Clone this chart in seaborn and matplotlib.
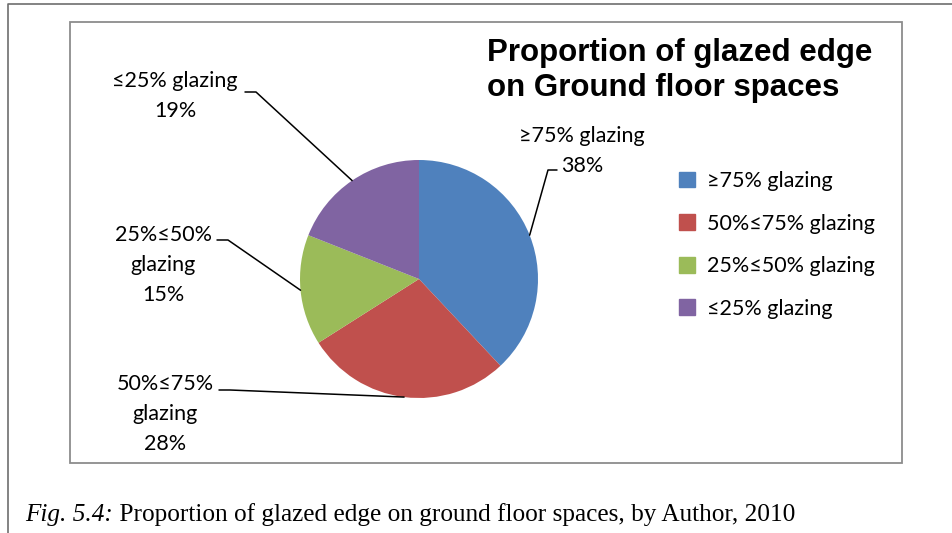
import numpy as np
import seaborn as sns
import matplotlib.pyplot as plt
from matplotlib.patches import Rectangle, Patch
from matplotlib.lines import Line2D

# data
categories = ['≥75% glazing', '50%≤75% glazing', '25%≤50% glazing', '≤25% glazing']
shares = [38, 28, 15, 19]
pie_labels = ['≥75% glazing\n38%', '50%≤75%\nglazing\n28%',
              '25%≤50%\nglazing\n15%', '≤25% glazing\n19%']
colors = ['#4F81BD', '#C0504D', '#9BBB59', '#8064A2']

title = 'Proportion of glazed edge\non Ground floor spaces'
caption_fig = 'Fig. 5.4:'
caption_text = ' Proportion of glazed edge on ground floor spaces, by Author, 2010'

sns.set_theme(style='white')
plt.rcParams['font.family'] = ['Lato', 'DejaVu Sans']
plt.rcParams['text.color'] = 'black'

W, H = 952, 533
fig = plt.figure(figsize=(W / 100, H / 100), dpi=100)


def px(x, y):
    # pixel coords (top-left origin) -> figure fraction
    return x / W, 1 - y / H


# pie
cx, cy, r = 419, 279, 119
ax = fig.add_axes([(cx - r) / W, (H - cy - r) / H, 2 * r / W, 2 * r / H])
wedges, _ = ax.pie(shares, colors=colors, startangle=90, counterclock=False,
                   wedgeprops=dict(linewidth=0))
ax.set_xlim(-1, 1)
ax.set_ylim(-1, 1)
ax.axis('off')
ax.apply_aspect()

# frames
fig.add_artist(Rectangle(px(70, 463), 832 / W, 441 / H, transform=fig.transFigure,
                         fill=False, ec='#8c8c8c', lw=1.3))
fig.add_artist(Line2D([8 / W, 8 / W, 1], [0, 1 - 4 / H, 1 - 4 / H],
                      transform=fig.transFigure, color='#6e6e6e', lw=1.2))

# data labels with leader lines
label_pos = [(582, 151), (165, 414), (163, 265), (175, 96)]
knees = [((557, 170), (548, 170)), ((219, 390), (230, 390)),
         ((217, 240), (228, 240)), ((245, 92), (256, 92))]
to_fig = fig.transFigure.inverted()
for w, lab, pos, (k0, k1) in zip(wedges, pie_labels, label_pos, knees):
    mid = np.deg2rad((w.theta1 + w.theta2) / 2)
    end = to_fig.transform(ax.transData.transform((np.cos(mid), np.sin(mid))))
    xs = [px(*k0)[0], px(*k1)[0], end[0]]
    ys = [px(*k0)[1], px(*k1)[1], end[1]]
    fig.add_artist(Line2D(xs, ys, transform=fig.transFigure, color='black', lw=1.1))
    fig.text(*px(*pos), lab, ha='center', va='center', fontsize=15.5,
             linespacing=1.65, multialignment='center')

# legend
handles = [Patch(color=c, label=l) for c, l in zip(colors, categories)]
fig.legend(handles=handles, loc='upper left', bbox_to_anchor=px(679, 171),
           frameon=False, fontsize=15.5, handlelength=0.75, handleheight=0.75,
           handletextpad=0.55, labelspacing=1.05, borderaxespad=0, borderpad=0,
           labelcolor='black')

# title
fig.text(*px(487, 38), title, ha='left', va='top', fontsize=22.5, fontweight='bold',
         family=['Liberation Sans', 'DejaVu Sans'], linespacing=1.2)

# caption
renderer = fig.canvas.get_renderer()
t1 = fig.text(*px(25, 521), caption_fig, style='italic', fontsize=18.2,
              family=['Liberation Serif', 'DejaVu Serif'], va='baseline')
bb = t1.get_window_extent(renderer)
fig.text(bb.x1 / W, 1 - 521 / H, caption_text, fontsize=18.2,
         family=['Liberation Serif', 'DejaVu Serif'], va='baseline')

fig.savefig('out.png', dpi=100)
